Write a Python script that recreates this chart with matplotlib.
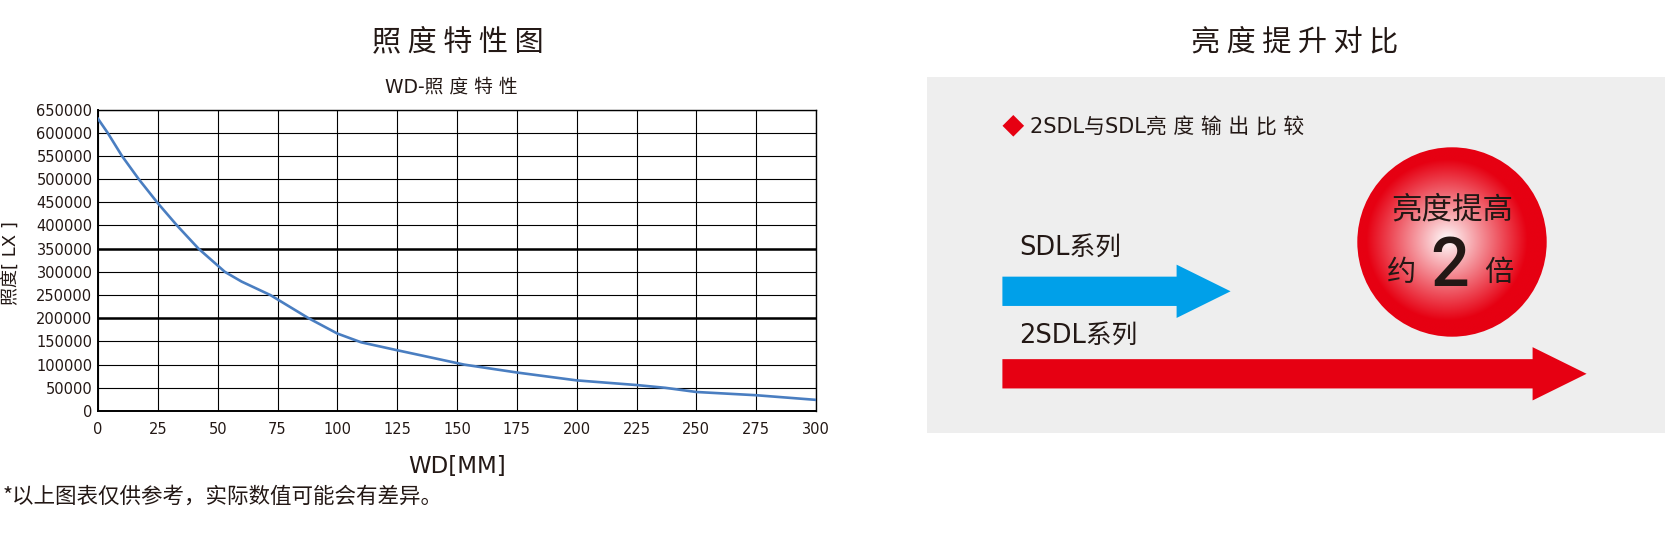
import numpy as np
import matplotlib
matplotlib.use("Agg")
import matplotlib.pyplot as plt
from matplotlib.patches import Circle, Polygon, FancyArrow

plt.rcParams["font.family"] = ["DejaVu Sans", "Noto Sans CJK SC"]

# WD - illuminance curve
wd = [0, 4, 10, 17, 25, 33, 42, 53, 60, 72, 88, 100, 110, 125, 153, 175,
      200, 225, 237, 250, 275, 300]
lux = [630000, 600000, 550000, 500000, 448000, 400000, 350000, 300000,
       279000, 250000, 200000, 167000, 148000, 131000, 100000, 83000,
       66000, 56000, 50000, 41000, 34000, 24000]
x_ticks = list(range(0, 301, 25))
y_ticks = list(range(0, 650001, 50000))
thick_levels = [200000, 350000]

# brightness comparison (arrow length relative to SDL)
series = ["SDL系列", "2SDL系列"]
arrow_len = [1.0, 2.56]
arrow_colors = ["#00A0E9", "#E60012"]

TXT = "#231815"
CJK = ["Noto Sans CJK SC"]
W, H = 1667, 535
fig = plt.figure(figsize=(W / 100, H / 100), dpi=100)


def box(l, t, r, b):
    return [l / W, 1 - b / H, (r - l) / W, (b - t) / H]


def fx(x):
    return x / W


def fy(y):
    return 1 - y / H


# ---- left: curve chart ----
ax = fig.add_axes(box(98, 109.5, 816, 411))
ax.plot(wd, lux, color="#4A7EC1", lw=1.9, zorder=3)
ax.set_xlim(0, 300)
ax.set_ylim(0, 650000)
ax.set_xticks(x_ticks)
ax.set_yticks(y_ticks)
ax.set_yticklabels([str(v) for v in y_ticks])
ax.tick_params(length=0, labelsize=10.5, colors=TXT)
ax.tick_params(axis="x", pad=8)
ax.tick_params(axis="y", pad=4)
ax.grid(True, color="black", lw=0.8)
for lv in thick_levels:
    ax.axhline(lv, color="black", lw=1.8, zorder=2)
for s in ax.spines.values():
    s.set_color("black")
    s.set_linewidth(1)
ax.spines["left"].set_linewidth(1.4)
ax.spines["bottom"].set_linewidth(1.4)

fig.text(fx(457.7), fy(42), "照 度 特 性 图", fontsize=21, family=CJK,
         ha="center", va="center", color=TXT)
fig.text(fx(451), fy(87), "WD-照 度 特 性", fontsize=13.5,
         ha="center", va="center", color=TXT)
fig.text(fx(457), fy(466), "WD[MM]", fontsize=16.5,
         ha="center", va="center", color=TXT)
fig.text(fx(10.7), fy(263), "照度[ LX ]", fontsize=13, rotation=90,
         ha="center", va="center", color=TXT)
fig.text(fx(2.5), fy(497), "*以上图表仅供参考，实际数值可能会有差异。",
         fontsize=15.5, family=CJK, ha="left", va="center", color=TXT)

# ---- right: brightness comparison ----
fig.text(fx(1295), fy(42), "亮 度 提 升 对 比", fontsize=21, family=CJK,
         ha="center", va="center", color=TXT)

L, T, R, B = 927, 76.7, 1665, 432.7
ax2 = fig.add_axes(box(L, T, R, B), facecolor="#EEEEEE")
ax2.set_xlim(L, R)
ax2.set_ylim(B, T)
ax2.set_xticks([])
ax2.set_yticks([])
for s in ax2.spines.values():
    s.set_visible(False)

# header bullet + text
cx_d, cy_d, hs = 1013.3, 125.8, 10.8
ax2.add_patch(Polygon([(cx_d - hs, cy_d), (cx_d, cy_d - hs), (cx_d + hs, cy_d),
                       (cx_d, cy_d + hs)], closed=True, color="#E60012", lw=0))
ax2.text(1030, 126.5, "2SDL与SDL亮 度 输 出 比 较", fontsize=15,
         ha="left", va="center", color=TXT)

# arrows
x0, unit = 1002.4, 228.2
arrow_y = [291.3, 373.8]
label_y = [248.3, 336.7]
for name, ln, col, ay, ly in zip(series, arrow_len, arrow_colors, arrow_y, label_y):
    ax2.add_patch(FancyArrow(x0, ay, ln * unit, 0, width=29.3, head_width=53.3,
                             head_length=54, length_includes_head=True,
                             color=col, lw=0))
    ax2.text(1019, ly, name, fontsize=18.5, ha="left", va="center", color=TXT)

# red ball with radial gradient
ccx, ccy, rad = 1452, 242, 94.7
n = 400
gx = np.linspace(ccx - rad, ccx + rad, n)
gy = np.linspace(ccy - rad, ccy + rad, n)
GX, GY = np.meshgrid(gx, gy)
d = np.hypot(GX - (ccx - 5), GY - (ccy - 2)) / rad
t = np.clip(d / 0.85, 0, 1) ** 0.95
white = np.array([1.0, 1.0, 1.0])
red = np.array([230, 0, 18]) / 255
img = white[None, None, :] * (1 - t[..., None]) + red[None, None, :] * t[..., None]
im = ax2.imshow(img, extent=(ccx - rad, ccx + rad, ccy + rad, ccy - rad),
                origin="upper", zorder=3, interpolation="bilinear")
clip = Circle((ccx, ccy), rad, transform=ax2.transData)
im.set_clip_path(clip)
ax2.set_xlim(L, R)
ax2.set_ylim(B, T)
ax2.set_aspect("auto")

ax2.text(1452.5, 210, "亮度提高", fontsize=22, family=CJK,
         ha="center", va="center", color=TXT, zorder=4)
ax2.text(1401.7, 273.3, "约", fontsize=21, family=CJK,
         ha="center", va="center", color=TXT, zorder=4)
ax2.text(1498.3, 273.3, "倍", fontsize=21, family=CJK,
         ha="center", va="center", color=TXT, zorder=4)
ax2.text(1450, 286, "2", fontsize=49, family=["Roboto", "DejaVu Sans"],
         weight="medium", ha="center", va="baseline", color=TXT, zorder=4)

fig.savefig("out.png", dpi=100)
